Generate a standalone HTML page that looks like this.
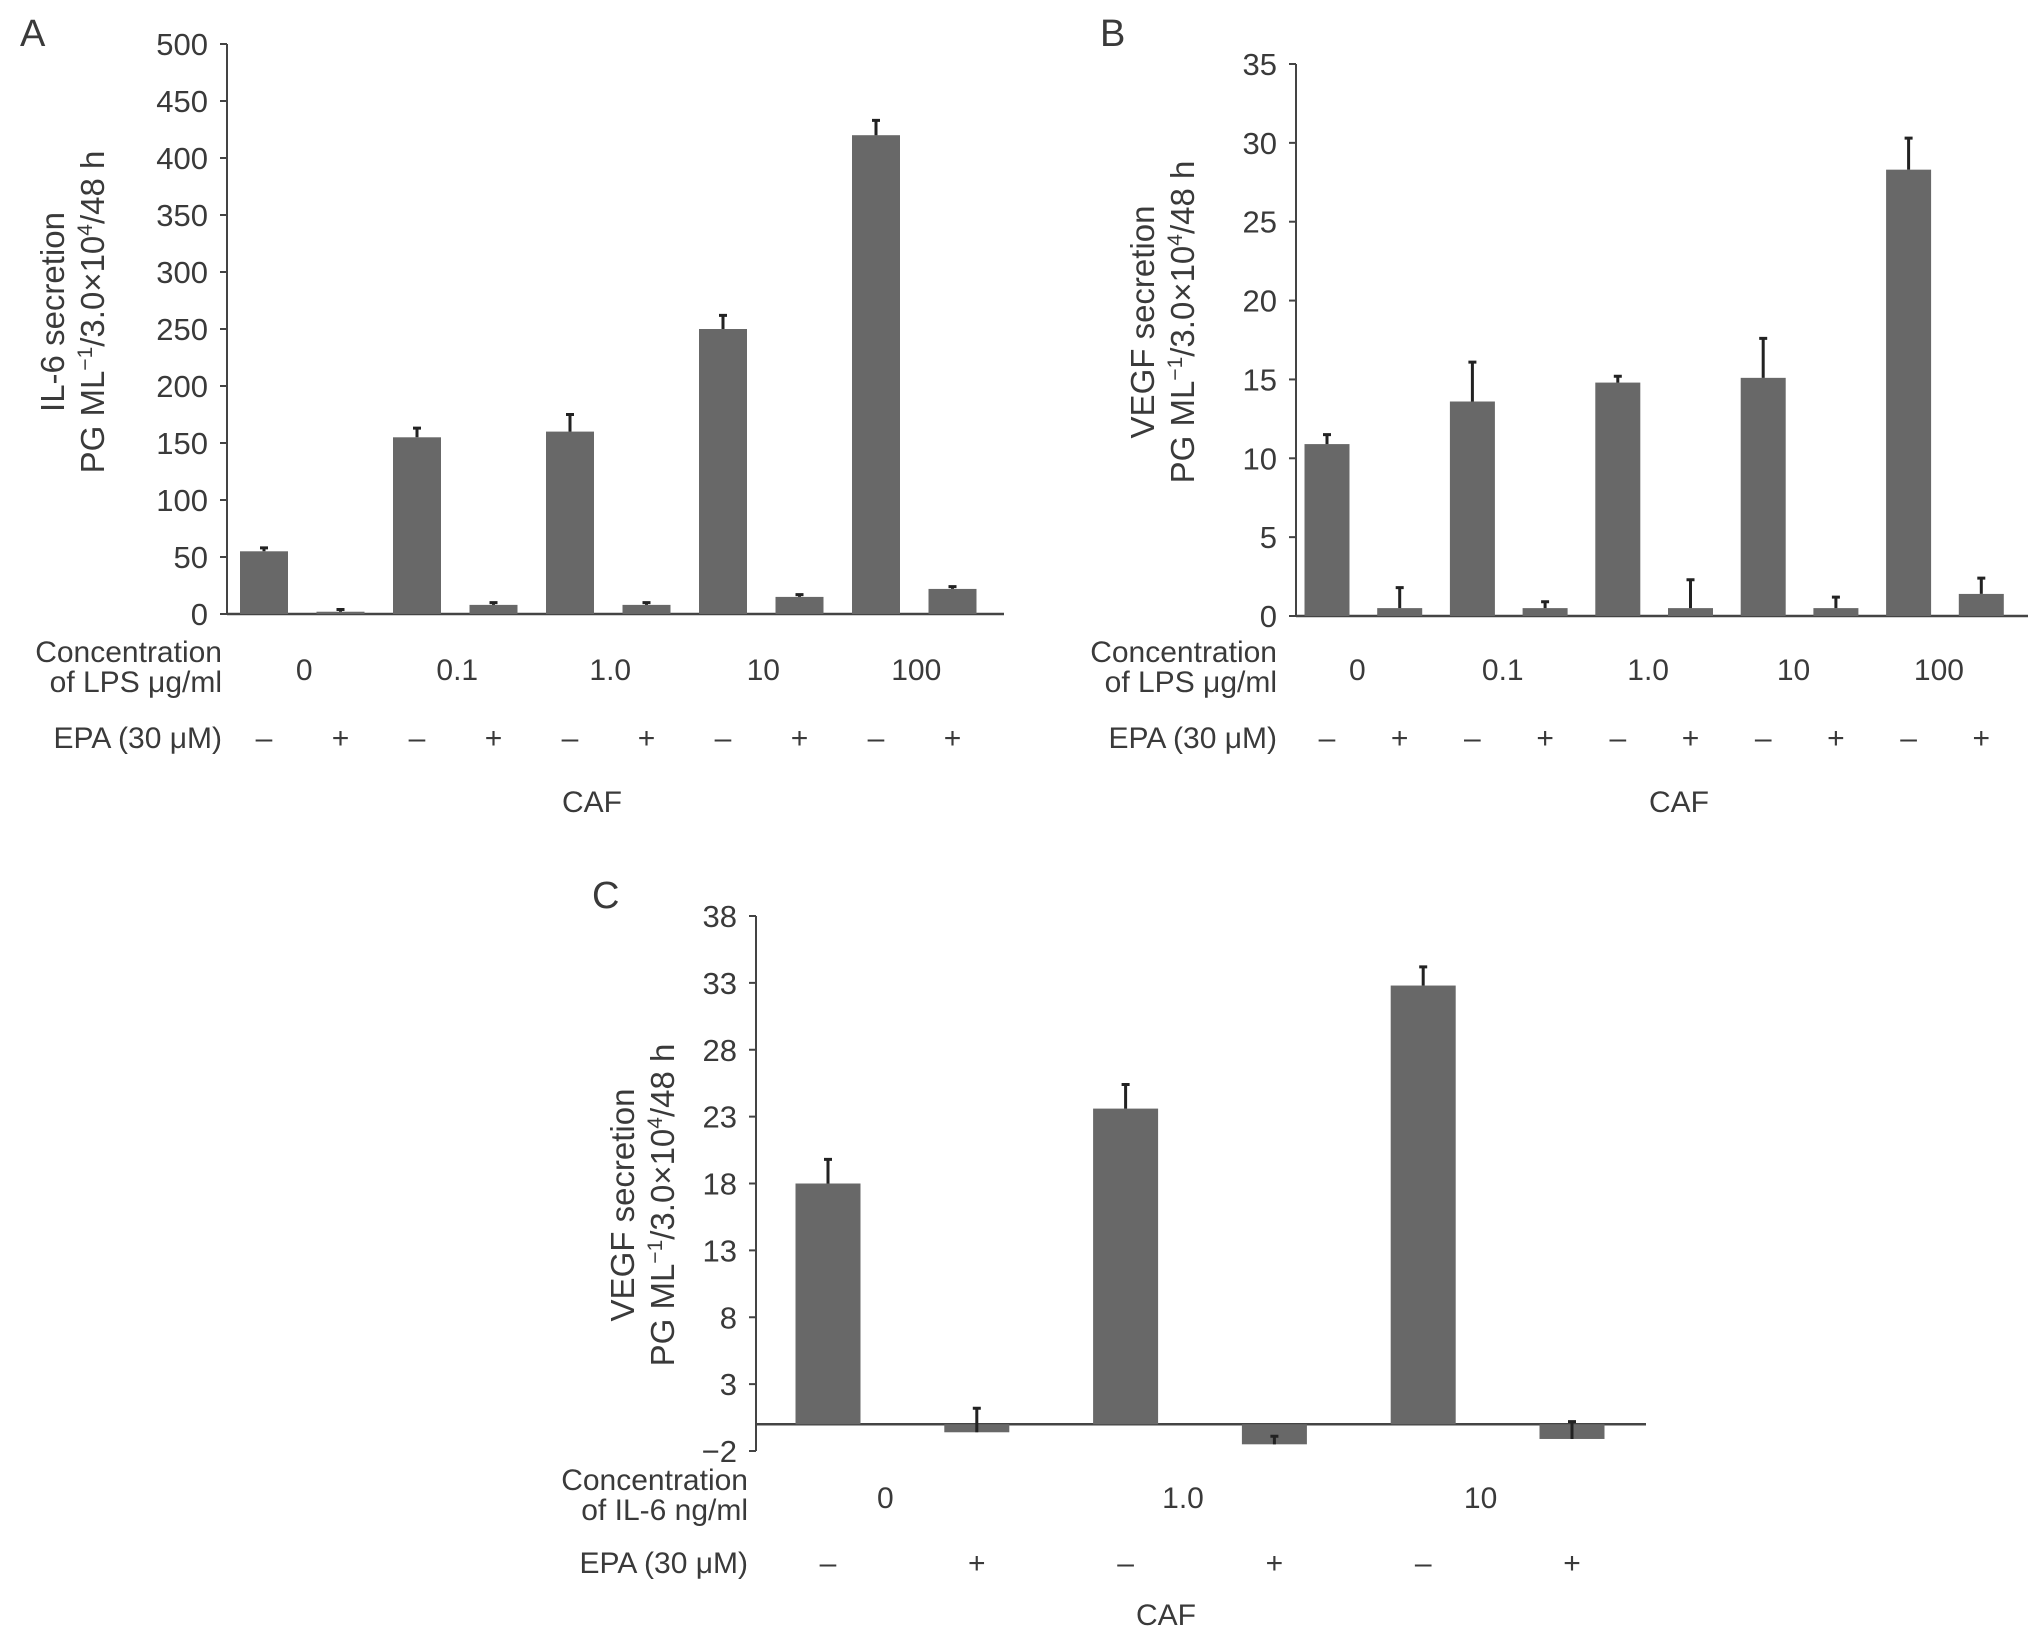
<!DOCTYPE html>
<html><head><meta charset="utf-8"><style>
html,body{margin:0;padding:0;background:#fff}
svg text{font-family:"Liberation Sans",sans-serif;fill:#3a3a3a}
</style></head><body>
<svg id="fig" width="2032" height="1640" viewBox="0 0 2032 1640" xmlns="http://www.w3.org/2000/svg"></svg>
<script>
// Panel A data
const aCategories=["0","0.1","1.0","10","100"];
const aValues=[55,2,155,8,160,8,250,15,420,22];
const aErrors=[3,2,8,2,15,2,12,2,13,2];
const aTicks=[0,50,100,150,200,250,300,350,400,450,500];
// Panel B data
const bCategories=["0","0.1","1.0","10","100"];
const bValues=[10.9,0.5,13.6,0.5,14.8,0.5,15.1,0.5,28.3,1.4];
const bErrors=[0.6,1.3,2.5,0.4,0.4,1.8,2.5,0.7,2.0,1.0];
const bTicks=[0,5,10,15,20,25,30,35];
// Panel C data
const cCategories=["0","1.0","10"];
const cValues=[18,-0.6,23.6,-1.5,32.8,-1.1];
const cErrors=[1.8,1.8,1.8,0.6,1.4,1.3];
const cTicks=[-2,3,8,13,18,23,28,33,38];

const svg=document.getElementById('fig');
const NS='http://www.w3.org/2000/svg';
function mk(tag,attrs,parent){const e=document.createElementNS(NS,tag);for(const k in attrs)e.setAttribute(k,attrs[k]);(parent||svg).appendChild(e);return e;}
function txt(s,x,y,anchor,size,parent){const t=mk('text',{x:x,y:y,'text-anchor':anchor,'font-size':size},parent);t.textContent=s;return t;}

function panel(o){
  const g=mk('g',{});
  
  
  const y=v=>o.y0-(v-o.vmin)/(o.vmax-o.vmin)*(o.y0-o.y1);
  const xc=i=>o.x0+i*o.pitch;
  const L=txt(o.id.toUpperCase(),o.lx,o.ly,'start',38,g);
  
  
  const ya=mk('line',{x1:o.ax,y1:y(o.vmax),x2:o.ax,y2:y(o.vmin),stroke:'#444','stroke-width':2},g);
  
  
  o.ticks.forEach(t=>{
    mk('line',{x1:o.ax-7,y1:y(t),x2:o.ax,y2:y(t),stroke:'#444','stroke-width':2},g);
    const tl=txt(t<0?'\u2212'+(-t):String(t),o.ax-19,y(t)+11,'end',31,g);
    
    
  });
  const xa=mk('line',{x1:o.ax,y1:y(0),x2:o.xend,y2:y(0),stroke:'#444','stroke-width':2.5},g);
  
  
  o.values.forEach((v,i)=>{
    const top=Math.min(y(v),y(0)),h=Math.abs(y(v)-y(0));
    const r=mk('rect',{x:xc(i)-o.bw/2,y:top,width:o.bw,height:h,fill:'#686868'},g);
    
    
    const ey=y(v+o.errors[i]);
    const e=mk('path',{d:`M${xc(i)},${y(v)}V${ey}M${xc(i)-4},${ey}H${xc(i)+4}`,stroke:'#222','stroke-width':3,fill:'none'},g);
    
    
  });
  o.cats.forEach((c,i)=>{
    const t=txt(c,(xc(2*i)+xc(2*i+1))/2+o.catOff,o.catY,'middle',30,g);
    
    
  });
  o.values.forEach((v,i)=>{
    const t=txt(i%2?'+':'\u2013',xc(i),o.epaY,'middle',30,g);
    
    
  });
  const c1=txt('Concentration',o.rowX,o.catY-18,'end',30,g);
  
  
  const c2=txt(o.concUnit,o.rowX,o.catY+12,'end',30,g);
  
  
  const ep=txt('EPA (30 \u03bcM)',o.rowX,o.epaY,'end',30,g);
  
  
  const caf=txt('CAF',o.cafX,o.cafY,'middle',30,g);
  
  
  const yt=mk('g',{transform:`translate(${o.tx},${o.ty}) rotate(-90)`},g);
  
  
  txt(o.title1,0,0,'middle',33,yt);
  const t2=mk('text',{x:0,y:40,'text-anchor':'middle','font-size':33},yt);
  t2.innerHTML='PG ML<tspan dy="-12" font-size="21">\u22121</tspan><tspan dy="12">/3.0\u00d710</tspan><tspan dy="-12" font-size="21">4</tspan><tspan dy="12">/48 h</tspan>';
}

panel({id:'a',values:aValues,errors:aErrors,ticks:aTicks,cats:aCategories,vmin:0,vmax:500,
  ax:227,y0:614,y1:44,xend:1004,x0:264,pitch:76.5,bw:48,lx:20,ly:46,catOff:2,
  catY:680,epaY:748,rowX:222,concUnit:'of LPS \u03bcg/ml',cafX:592,cafY:812,
  tx:64,ty:312,title1:'IL-6 secretion'});
panel({id:'b',values:bValues,errors:bErrors,ticks:bTicks,cats:bCategories,vmin:0,vmax:35,
  ax:1296,y0:616,y1:64,xend:2028,x0:1327,pitch:72.7,bw:45,lx:1100,ly:46,catOff:-6,
  catY:680,epaY:748,rowX:1277,concUnit:'of LPS \u03bcg/ml',cafX:1679,cafY:812,
  tx:1154,ty:322,title1:'VEGF secretion'});
panel({id:'c',values:cValues,errors:cErrors,ticks:cTicks,cats:cCategories,vmin:-2,vmax:38,
  ax:756,y0:1451,y1:916,xend:1646,x0:828,pitch:148.8,bw:65,lx:592,ly:908,catOff:-17,
  catY:1508,epaY:1573,rowX:748,concUnit:'of IL-6 ng/ml',cafX:1166,cafY:1625,
  tx:634,ty:1205,title1:'VEGF secretion'});
</script>
</body></html>
